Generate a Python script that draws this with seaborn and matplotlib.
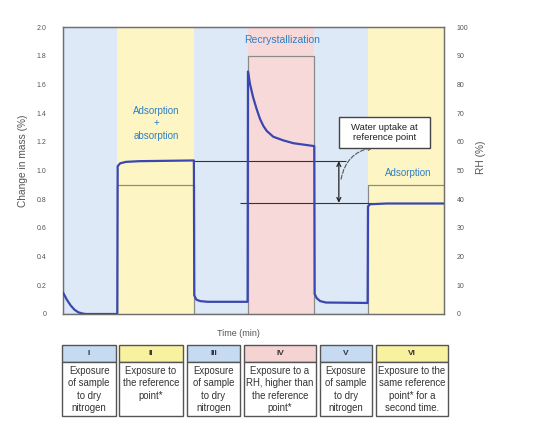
import matplotlib
matplotlib.use("Agg")
import matplotlib.pyplot as plt
from matplotlib.patches import Rectangle
import pandas as pd
import seaborn as sns

# phase boundaries along the time axis (arbitrary time units, no ticks shown)
bounds = [0, 14.3, 34.4, 48.5, 66.0, 80.0, 100]
phase_colors = ["#dde9f6", "#fdf6c4", "#dde9f6", "#f7d9d9", "#dde9f6", "#fdf6c4"]
head_colors = ["#c6daf1", "#f8f1a0", "#c6daf1", "#f5d3d3", "#c6daf1", "#f8f1a0"]
rh_steps = [0, 45, 0, 90, 0, 45]

# mass change curve
t_mass = [0, 1, 2, 3, 4, 5, 6, 14.25,
          14.35, 15, 16.5, 20, 34.35,
          34.45, 35, 36, 38, 48.45,
          48.55, 49.1, 49.9, 50.8, 51.7, 52.6, 53.5, 55.2, 57.8, 60.5, 65.95,
          66.05, 66.6, 67.5, 69, 79.95,
          80.05, 80.6, 85, 100]
mass = [0.15, 0.10, 0.06, 0.03, 0.012, 0.004, 0.0, 0.0,
        1.03, 1.05, 1.06, 1.065, 1.07,
        0.13, 0.10, 0.09, 0.085, 0.085,
        1.69, 1.60, 1.51, 1.43, 1.36, 1.31, 1.275, 1.235, 1.21, 1.19, 1.17,
        0.14, 0.11, 0.09, 0.08, 0.077,
        0.75, 0.765, 0.77, 0.77]

phase_ids = ["I", "II", "III", "IV", "V", "VI"]
phase_text = [
    "Exposure\nof sample\nto dry\nnitrogen",
    "Exposure to\nthe reference\npoint*",
    "Exposure\nof sample\nto dry\nnitrogen",
    "Exposure to a\nRH, higher than\nthe reference\npoint*",
    "Exposure\nof sample\nto dry\nnitrogen",
    "Exposure to the\nsame reference\npoint* for a\nsecond time.",
]
left_ticks = [0, 0.2, 0.4, 0.6, 0.8, 1.0, 1.2, 1.4, 1.6, 1.8, 2.0]
left_labels = ["0", "0.2", "0.4", "0.6", "0.8", "1.0", "1.2", "1.4", "1.6", "1.8", "2.0"]
right_ticks = [0, 10, 20, 30, 40, 50, 60, 70, 80, 90, 100]

sns.set_style("white")
plt.rcParams["font.family"] = ["Liberation Sans", "DejaVu Sans"]

W, H = 542, 421
fig = plt.figure(figsize=(W / 100, H / 100), dpi=100)
ax = fig.add_axes([63 / W, 1 - 314 / H, 381 / W, 287 / H])
ax2 = ax.twinx()

# background phases and RH profile live on the lower (RH) axis
for i in range(6):
    ax2.axvspan(bounds[i], bounds[i + 1], color=phase_colors[i], lw=0, zorder=0)
rh_x = bounds
rh_y = rh_steps + [rh_steps[-1]]
ax2.step(rh_x, rh_y, where="post", color="#8a8a8a", lw=0.9, zorder=2)
ax2.set_ylim(0, 100)
ax2.set_yticks(right_ticks)

ax.set_zorder(ax2.get_zorder() + 1)
ax.patch.set_visible(False)

df = pd.DataFrame({"time": t_mass, "mass": mass})
sns.lineplot(data=df, x="time", y="mass", ax=ax, sort=False, estimator=None,
             color="#3b47b0", lw=1.6, zorder=5)

ax.set_xlim(0, 100)
ax.set_ylim(0, 2.0)
ax.set_yticks(left_ticks)
ax.set_yticklabels(left_labels)
ax.set_xticks([])
ax.set_xlabel("")
ax.set_ylabel("Change in mass (%)", fontsize=7.3, color="#555555")
ax.yaxis.set_label_coords(-0.092, 0.533)
ax2.set_ylabel("RH (%)", fontsize=7.3, color="#555555")
ax2.yaxis.set_label_coords(1.084, 0.545)
ax.tick_params(axis="y", length=0, labelsize=5, labelcolor="#555555", pad=12)
ax2.tick_params(axis="y", length=0, labelsize=5, labelcolor="#555555", pad=9)
for a in (ax, ax2):
    for s in a.spines.values():
        s.set_color("#707070")
        s.set_linewidth(0.9)

# reference lines and double arrow
ax.hlines(1.065, 34.4, 74.3, color="#333333", lw=0.8, zorder=4)
ax.hlines(0.775, 46.5, 81.4, color="#333333", lw=0.8, zorder=4)
ax.annotate("", xy=(72.4, 1.065), xytext=(72.4, 0.775),
            arrowprops=dict(arrowstyle="<->", color="#222222", lw=0.9,
                            shrinkA=0, shrinkB=0, mutation_scale=7))
ax.annotate("", xy=(81.4, 1.16), xytext=(73.0, 0.94),
            arrowprops=dict(arrowstyle="->", color="#555555", lw=0.8, ls="--",
                            connectionstyle="arc3,rad=-0.35", mutation_scale=7,
                            shrinkA=0, shrinkB=0))
ax.add_patch(Rectangle((72.4, 1.16), 23.9, 0.21, fc="white", ec="#444444",
                       lw=1.0, zorder=6))
ax.text(84.35, 1.265, "Water uptake at\nreference point", ha="center", va="center",
        fontsize=6.8, color="#222222", linespacing=1.2, zorder=7)

blue_txt = "#2f7fc4"
ax.text(24.4, 1.33, "Adsorption\n+\nabsorption", ha="center", va="center",
        fontsize=7, color=blue_txt, linespacing=1.3)
ax.text(57.4, 1.91, "Recrystallization", ha="center", va="center",
        fontsize=7.5, color=blue_txt)
ax.text(90.6, 0.98, "Adsorption", ha="center", va="center",
        fontsize=7, color=blue_txt)

fig.text(238 / W, 1 - 334 / H, "Time (min)", ha="center", va="center",
         fontsize=6.5, color="#555555")

# phase description boxes under the chart
box_x = [(62, 116), (119, 183), (187, 240), (244, 316), (320, 372), (376, 448)]
top, mid, bot = 345, 362, 416
for (x0, x1), pid, txt, hc in zip(box_x, phase_ids, phase_text, head_colors):
    fig.patches.append(Rectangle((x0 / W, 1 - mid / H), (x1 - x0) / W, (mid - top) / H,
                                 transform=fig.transFigure, fc=hc, ec="#555555", lw=1.0))
    fig.patches.append(Rectangle((x0 / W, 1 - bot / H), (x1 - x0) / W, (bot - mid) / H,
                                 transform=fig.transFigure, fc="white", ec="#555555", lw=1.0))
    fig.text((x0 + x1) / 2 / W, 1 - (top + mid) / 2 / H, pid, ha="center", va="center",
             fontsize=6, fontweight="bold", color="#333333")
    fig.text((x0 + x1) / 2 / W, 1 - 365.5 / H, txt, ha="center", va="top",
             fontsize=6.9, color="#333333", linespacing=1.32)

fig.savefig("out.png", dpi=100)
